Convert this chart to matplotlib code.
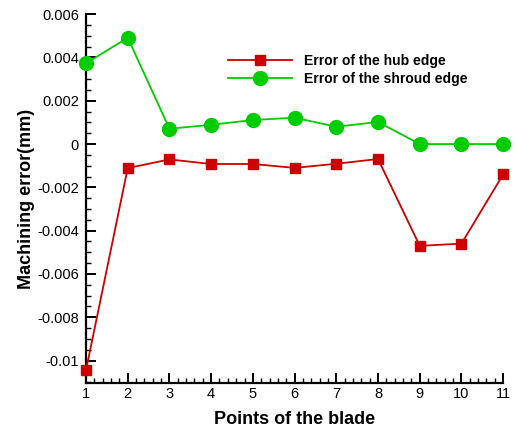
#!/usr/bin/env python3

import matplotlib
matplotlib.use('Agg')
import matplotlib.pyplot as plt
from matplotlib.ticker import FixedLocator, AutoMinorLocator, FuncFormatter

points = [1, 2, 3, 4, 5, 6, 7, 8, 9, 10, 11]
hub_error = [-0.01044, -0.00111, -0.00071, -0.00092, -0.00092, -0.0011,
             -0.00091, -0.00069, -0.0047, -0.0046, -0.0014]
shroud_error = [0.00373, 0.00491, 0.00071, 0.00089, 0.00111, 0.00122,
                0.0008, 0.00102, 0.0, 0.0, 0.0]
y_ticks = [-0.01, -0.008, -0.006, -0.004, -0.002, 0, 0.002, 0.004, 0.006]

plt.rcParams['font.family'] = ['Liberation Sans', 'DejaVu Sans']

fig = plt.figure(figsize=(5.15, 4.29), dpi=100)
ax = fig.add_axes([0.167, 0.107, 0.81, 0.86])

ax.plot(points, hub_error, color='#cc0000', lw=1.3, marker='s', ms=7,
        label='Error of the hub edge', clip_on=False, zorder=3)
ax.plot(points, shroud_error, color='#00cc00', lw=1.3, marker='o', ms=10,
        label='Error of the shroud edge', clip_on=False, zorder=3)

ax.set_xlim(1, 11)
ax.set_ylim(-0.01104, 0.006)
ax.set_xticks(points)
ax.xaxis.set_minor_locator(AutoMinorLocator(5))
ax.yaxis.set_major_locator(FixedLocator(y_ticks))
ax.yaxis.set_minor_locator(AutoMinorLocator(4))
ax.yaxis.set_major_formatter(FuncFormatter(lambda v, p: '0' if abs(v) < 1e-9 else '%g' % v))

for side in ['top', 'right']:
    ax.spines[side].set_visible(False)
for side in ['left', 'bottom']:
    ax.spines[side].set_linewidth(1.6)

ax.tick_params(which='major', direction='in', length=7, width=1.4, labelsize=10.5)
ax.tick_params(axis='x', which='major', pad=3)
ax.tick_params(axis='y', which='major', pad=5)
ax.tick_params(which='minor', direction='in', length=3.5, width=1.0)

ax.set_xlabel('Points of the blade', fontsize=13, fontweight='bold', labelpad=7)
ax.set_ylabel('Machining error(mm)', fontsize=13, fontweight='bold', labelpad=1.5)

ax.legend(loc='upper left', bbox_to_anchor=(0.31, 0.925), frameon=False,
          prop={'weight': 'bold', 'size': 10}, handlelength=4.6,
          handletextpad=0.85, labelspacing=0.25)

fig.savefig('out.png', dpi=100)
